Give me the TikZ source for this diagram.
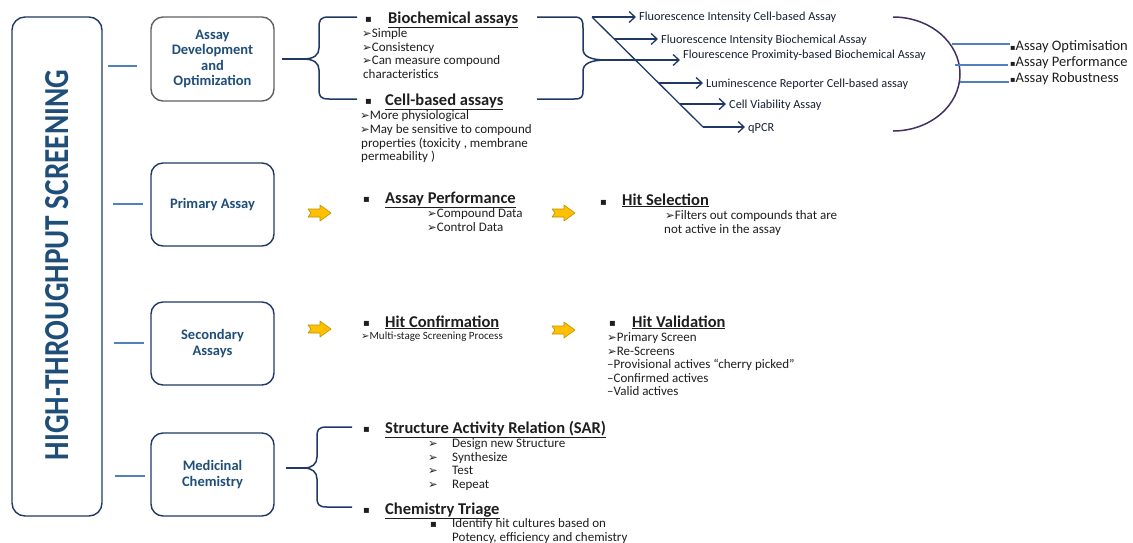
\documentclass[tikz,border=0pt]{standalone}
\usepackage{graphicx}
\usepackage{fontspec}
\setmainfont{Carlito}
\newfontfamily\symfont{DejaVu Sans}
\usetikzlibrary{arrows.meta,calc}

\definecolor{navy}{RGB}{31,56,100}
\definecolor{titleblue}{RGB}{31,78,121}
\definecolor{linkblue}{RGB}{79,129,189}
\definecolor{arcpurple}{RGB}{64,49,96}
\definecolor{gold}{RGB}{255,192,0}
\definecolor{goldedge}{RGB}{191,144,0}
\definecolor{ink}{RGB}{30,30,30}
\definecolor{asyink}{RGB}{22,32,52}

\newcommand\fs[1]{\fontsize{#1}{#1}\selectfont}
\newcommand\tri{{\symfont\fs{11.5}➢}}
\newcommand\sq{{\symfont\fs{10}▪}}

\begin{document}
\begin{tikzpicture}[x=1pt,y=-1pt,
  stage/.style={draw=navy, line width=1.4pt, rounded corners=12pt,
    minimum width=123pt, minimum height=83pt, align=center, inner sep=0pt,
    text=titleblue, font=\bfseries\fontsize{14.5}{15.5}\selectfont},
  link/.style={linkblue, line width=1.2pt},
  brace/.style={navy, line width=1.5pt},
  txt/.style={anchor=base west, inner sep=0pt, text=ink, font=\fs{13}},
  head/.style={txt, font=\bfseries\fs{16.5}},
  asy/.style={txt, text=asyink, font=\fs{12.3}},
  side/.style={txt, font=\fs{14.5}},
  arr/.style={navy, line width=1.3pt, shorten >=3pt,
    -{Straight Barb[length=6pt,width=11pt]}},
  yarrow/.pic={\draw[fill=gold, draw=goldedge, line width=0.6pt, line join=round]
    (0,-4) -- (12,-4) -- (12,-8) -- (23,0) -- (12,8) -- (12,4) -- (0,4) -- (3,0) -- cycle;}
]
\useasboundingbox (0,0) rectangle (1133,542);

% main frame and its vertical title
\node[draw=navy, line width=1.4pt, rounded corners=13pt, minimum width=90pt,
  minimum height=499pt, inner sep=0pt] (hts) at (57,266.5) {};
\node[rotate=90, inner sep=0pt, text=titleblue] (title) at (57,265)
  {\resizebox{390pt}{23pt}{\bfseries HIGH-THROUGHPUT SCREENING}};

% the four stages
\node[stage, draw=gray!75!black, minimum height=84pt] (s1) at (212.5,59)
  {Assay\\Development\\and\\Optimization};
\node[stage] (s2) at (212.5,204.5) {Primary Assay};
\node[stage] (s3) at (212.5,343.5) {Secondary\\Assays};
\node[stage] (s4) at (212.5,474.5) {Medicinal\\Chemistry};

\coordinate (y1) at (0,66);
\coordinate (y2) at (0,204);
\coordinate (y3) at (0,343);
\coordinate (y4) at (0,476);
\draw[link, shorten <=5pt, shorten >=13pt] (hts.east |- y1) -- (s1.west |- y1);
\draw[link, shorten <=10pt, shorten >=7pt] (hts.east |- y2) -- (s2.west |- y2);
\draw[link, shorten <=11pt, shorten >=6pt] (hts.east |- y3) -- (s3.west |- y3);
\draw[link, shorten <=12pt, shorten >=5pt] (hts.east |- y4) -- (s4.west |- y4);

% ---------- assay development ----------
\coordinate (b1tip) at (303,59);
\draw[brace] (357,17) -- (329,17) .. controls (320,17) and (319,20) .. (319,28)
  -- (319,48) .. controls (319,55) and (314,59) .. (b1tip)
  .. controls (314,59) and (319,63) .. (319,70) -- (319,89)
  .. controls (319,96) and (320,99) .. (329,99) -- (357,99);
\draw[brace, shorten <=7pt] (s1.east) -- (b1tip);

\node[txt] (bq1) at (365,22) {\sq};
\node[head] (h1) at (388,23) {\underline{Biochemical assays}};
\node[txt] (t11) at (362,37) {\tri Simple};
\node[txt] (t12) at (362,51) {\tri Consistency};
\node[txt] (t13) at (362,64) {\tri Can measure compound};
\node[txt] (t14) at (363,78) {characteristics};
\node[txt] (bq2) at (365,104) {\sq};
\node[head] (h2) at (385,105) {\underline{Cell-based assays}};
\node[txt] (t21) at (360,119) {\tri More physiological};
\node[txt] (t22) at (360,133) {\tri May be sensitive to compound};
\node[txt] (t23) at (361,147) {properties (toxicity , membrane};
\node[txt] (t24) at (361,160) {permeability )};

\coordinate (b2tip) at (606,60);
\draw[brace] (537,17) -- (574,17) .. controls (582,17) and (583,20) .. (583,28)
  -- (583,49) .. controls (583,56) and (590,60) .. (b2tip)
  .. controls (590,60) and (583,64) .. (583,71) -- (583,90)
  .. controls (583,97) and (582,99) .. (574,99) -- (537,99);

% assay formats
\node[asy] (f1) at (639,20) {Fluorescence Intensity Cell-based Assay};
\node[asy] (f2) at (661,43) {Fluorescence Intensity Biochemical Assay};
\node[asy] (f3) at (683,58) {Flourescence Proximity-based Biochemical Assay};
\node[asy] (f4) at (706,87) {Luminescence Reporter Cell-based assay};
\node[asy] (f5) at (729,108) {Cell Viability Assay};
\node[asy] (f6) at (748,131) {qPCR};

\coordinate (d0) at (592,17);
\coordinate (d1) at (703,127);
\draw[navy, line width=1.3pt] (d0) -- (d1);
\coordinate (p2) at ($(d0)!0.2!(d1)$);
\coordinate (p4) at ($(d0)!0.6!(d1)$);
\coordinate (p5) at ($(d0)!0.791!(d1)$);
\draw[arr] (d0) -- (d0 -| f1.west);
\draw[arr] (p2) -- (p2 -| f2.west);
\draw[arr] (b2tip) -- (b2tip -| f3.west);
\draw[arr] (p4) -- (p4 -| f4.west);
\draw[arr] (p5) -- (p5 -| f5.west);
\draw[arr] (d1) -- (d1 -| f6.west);

% goals of optimisation
\draw[arcpurple, line width=1.5pt] (893,17)
  arc[start angle=-90, end angle=90, x radius=67, y radius=57];
\node[side] (g1) at (1010,50) {{\symfont\fs{8}▪}Assay Optimisation};
\node[side] (g2) at (1010,66) {{\symfont\fs{8}▪}Assay Performance};
\node[side] (g3) at (1010,82) {{\symfont\fs{8}▪}Assay Robustness};
\coordinate (a1) at (952,44);
\coordinate (a2) at (955,65);
\coordinate (a3) at (960,82);
\draw[link] (a1) -- (a1 -| g1.west);
\draw[link] (a2) -- ([xshift=-2pt]a2 -| g2.west);
\draw[link] (a3) -- ([xshift=-1pt]a3 -| g3.west);

% ---------- primary assay ----------
\pic at (308,213) {yarrow};
\pic at (552,213) {yarrow};
\node[txt] (bq3) at (363,202) {\sq};
\node[head] (h3) at (385,203) {\underline{Assay Performance}};
\node[txt] (t31) at (427,217) {\tri Compound Data};
\node[txt] (t32) at (427,231) {\tri Control Data};
\node[txt] (bq4) at (600,205) {\sq};
\node[head] (h4) at (622,205) {\underline{Hit Selection}};
\node[txt] (t41) at (665,219) {\tri Filters out compounds that are};
\node[txt] (t42) at (664,233) {not active in the assay};

% ---------- secondary assays ----------
\pic at (308,329) {yarrow};
\pic at (552,330) {yarrow};
\node[txt] (bq5) at (363,326) {\sq};
\node[head] (h5) at (385,327) {\underline{Hit Confirmation}};
\node[txt, font=\fs{11}] (t51) at (361,339) {{\symfont\fs{10}➢}Multi-stage Screening Process};
\node[txt] (bq6) at (609,326) {\sq};
\node[head] (h6) at (632,327) {\underline{Hit Validation}};
\node[txt] (t61) at (607,341) {\tri Primary Screen};
\node[txt] (t62) at (607,355) {\tri Re-Screens};
\node[txt] (t63) at (607,368) {–Provisional actives “cherry picked”};
\node[txt] (t64) at (607,382) {–Confirmed actives};
\node[txt] (t65) at (607,395) {–Valid actives};

% ---------- medicinal chemistry ----------
\coordinate (b4tip) at (304,468);
\draw[brace] (352,427) -- (327,427) .. controls (318,427) and (317,430) .. (317,437)
  -- (317,457) .. controls (317,464) and (312,468) .. (b4tip)
  .. controls (312,468) and (317,472) .. (317,479) -- (317,497)
  .. controls (317,504) and (318,507) .. (327,507) -- (352,507);
\draw[brace, shorten <=11pt] (s4.east |- b4tip) -- (b4tip);

\node[txt] (bq7) at (363,432) {\sq};
\node[head] (h7) at (385,433) {\underline{Structure Activity Relation (SAR)}};
\node[txt] (m1a) at (428,447) {\tri};
\node[txt] (m1) at (452,447) {Design new Structure};
\node[txt] (m2a) at (428,461) {\tri};
\node[txt] (m2) at (452,461) {Synthesize};
\node[txt] (m3a) at (428,474) {\tri};
\node[txt] (m3) at (452,474) {Test};
\node[txt] (m4a) at (428,488) {\tri};
\node[txt] (m4) at (452,488) {Repeat};
\node[txt] (bq8) at (363,513) {\sq};
\node[head] (h8) at (385,514) {\underline{Chemistry Triage}};
\node[txt] (bq9) at (430,527) {\sq};
\node[txt] (c1) at (452,527) {Identify hit cultures based on};
\node[txt] (c2) at (452,541) {Potency, efficiency and chemistry};
\end{tikzpicture}
\end{document}
